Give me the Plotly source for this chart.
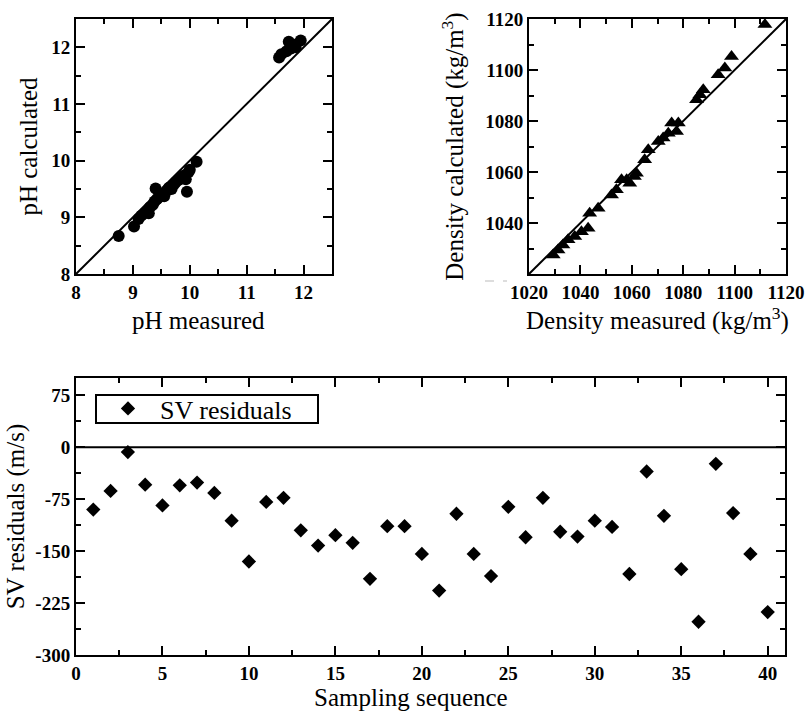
import plotly.graph_objects as go

# ---------------- data ----------------
ph_measured = [8.75, 9.02, 9.10, 9.15, 9.22, 9.28, 9.30, 9.35, 9.38, 9.40, 9.42, 9.45,
               9.50, 9.55, 9.60, 9.63, 9.68, 9.72, 9.75, 9.80, 9.85, 9.90, 9.95, 9.93,
               9.98, 10.00, 10.12, 11.57, 11.61, 11.70, 11.74, 11.78, 11.82, 11.86, 11.95]
ph_calculated = [8.67, 8.84, 8.97, 9.03, 9.08, 9.07, 9.18, 9.22, 9.28, 9.51, 9.32, 9.35,
                 9.40, 9.37, 9.47, 9.52, 9.50, 9.58, 9.62, 9.66, 9.70, 9.74, 9.45, 9.67,
                 9.80, 9.84, 9.98, 11.82, 11.88, 11.93, 12.10, 11.98, 12.05, 12.00, 12.12]
ph_identity = [8, 12.5]

dens_measured = [1029.4, 1031.3, 1033.2, 1035.2, 1037.8, 1040.4, 1043.0, 1043.6, 1046.9,
                 1052.1, 1054.0, 1056.0, 1058.0, 1059.2, 1061.0, 1061.8, 1065.0, 1066.4,
                 1070.3, 1072.2, 1074.2, 1075.5, 1077.4, 1078.1, 1085.2, 1086.5, 1087.8,
                 1093.6, 1096.2, 1098.8, 1111.8]
dens_calculated = [1027.5, 1029.4, 1031.4, 1033.4, 1034.7, 1036.6, 1037.9, 1043.8, 1045.8,
                   1051.0, 1053.0, 1057.0, 1057.0, 1055.6, 1058.2, 1059.5, 1064.8, 1068.7,
                   1072.0, 1073.3, 1075.2, 1079.2, 1075.9, 1079.2, 1088.3, 1090.3, 1092.3,
                   1098.1, 1100.8, 1105.3, 1117.8]
dens_identity = [1020, 1120]
dens_ytickvals = [1040, 1060, 1080, 1100, 1120]

sample_seq = list(range(1, 41))
sv_residuals = [-90, -63, -7, -54, -84, -55, -51, -66, -106, -165,
                -79, -73, -120, -142, -127, -138, -190, -114, -114, -154,
                -207, -96, -154, -186, -86, -130, -73, -122, -129, -106,
                -115, -183, -35, -99, -176, -252, -24, -95, -154, -238]
zero_x = [0, 41]
zero_y = [0, 0]
sv_tickvals = [75, 0, -75, -150, -225, -300]
sv_ticktext = ["75", "0", "-75", "-150", "-225", "-300"]

# ---------------- figure ----------------
FONT = "Liberation Serif"
tickfont = dict(family=FONT, size=19, color="black", weight="bold")
titlefont = dict(family=FONT, size=25, color="black")

fig = go.Figure()

fig.add_trace(go.Scatter(x=ph_identity, y=ph_identity, mode="lines",
                         line=dict(color="black", width=2), showlegend=False,
                         xaxis="x", yaxis="y"))
fig.add_trace(go.Scatter(x=ph_measured, y=ph_calculated, mode="markers",
                         marker=dict(symbol="circle", size=12, color="black"),
                         showlegend=False, xaxis="x", yaxis="y"))

fig.add_trace(go.Scatter(x=dens_identity, y=dens_identity, mode="lines",
                         line=dict(color="black", width=2), showlegend=False,
                         xaxis="x2", yaxis="y2"))
fig.add_trace(go.Scatter(x=dens_measured, y=dens_calculated, mode="markers",
                         marker=dict(symbol="triangle-up", size=13, color="black"),
                         showlegend=False, xaxis="x2", yaxis="y2"))

fig.add_trace(go.Scatter(x=zero_x, y=zero_y, mode="lines",
                         line=dict(color="black", width=2), showlegend=False,
                         xaxis="x3", yaxis="y3"))
fig.add_trace(go.Scatter(x=sample_seq, y=sv_residuals, mode="markers",
                         name="SV residuals",
                         marker=dict(symbol="diamond", size=11, color="black"),
                         showlegend=True, xaxis="x3", yaxis="y3"))

W, H = 807, 713

def axis_common(**kw):
    d = dict(showline=True, linewidth=2, linecolor="black", mirror="allticks",
             ticks="inside", ticklen=9, tickwidth=2, tickcolor="black",
             showgrid=False, zeroline=False, tickfont=tickfont, automargin=False,
             tickprefix="<b>", ticksuffix="</b>",
             minor=dict(ticks="inside", ticklen=5, tickwidth=2, tickcolor="black", showgrid=False))
    d.update(kw)
    return d

fig.update_layout(
    width=W, height=H,
    margin=dict(l=0, r=0, t=0, b=0, autoexpand=False),
    paper_bgcolor="white", plot_bgcolor="white",
    xaxis=axis_common(domain=[76 / W, 332 / W], range=[8, 12.5], tick0=8, dtick=1,
                      minor_dtick=0.5, anchor="y"),
    yaxis=axis_common(domain=[1 - 274 / H, 1 - 19 / H], range=[8, 12.5], tick0=8, dtick=1,
                      minor_dtick=0.5, anchor="x",
                      title=dict(text="pH calculated", font=titlefont, standoff=6)),
    xaxis2=axis_common(domain=[529 / W, 786 / W], range=[1020, 1120], tick0=1020, dtick=20,
                       minor_dtick=10, anchor="y2",
                       title=dict(text="Density measured (kg/m<sup>3</sup>)", font=titlefont, standoff=8)),
    yaxis2=axis_common(domain=[1 - 274 / H, 1 - 19 / H], range=[1020, 1120],
                       tickmode="array", tickvals=dens_ytickvals,
                       minor=dict(tick0=1020, dtick=10, ticks="inside", ticklen=5, tickwidth=2,
                                  tickcolor="black", showgrid=False),
                       anchor="x2",
                       title=dict(text="Density calculated (kg/m<sup>3</sup>)", font=titlefont, standoff=14)),
    xaxis3=axis_common(domain=[76 / W, 785 / W], range=[0, 41], tick0=0, dtick=5,
                       minor_dtick=2.5, anchor="y3"),
    yaxis3=axis_common(domain=[1 - 655 / H, 1 - 378 / H], range=[-300, 100],
                       tickmode="array", tickvals=sv_tickvals, ticktext=sv_ticktext,
                       minor=dict(tick0=-300, dtick=37.5, ticks="inside", ticklen=5, tickwidth=2,
                                  tickcolor="black", showgrid=False),
                       anchor="x3",
                       title=dict(text="SV residuals (m/s)", font=titlefont, standoff=4)),
    legend=dict(x=96 / W, y=1 - 385 / H, xanchor="left", yanchor="top",
                bgcolor="rgba(0,0,0,0)", borderwidth=0,
                font=dict(family=FONT, size=26, color="black"),
                itemwidth=54),
    annotations=[
        dict(text="pH measured", xref="paper", yref="paper", x=198 / W, y=1 - 320 / H,
             xanchor="center", yanchor="middle", showarrow=False, font=titlefont),
        dict(text="Sampling sequence", xref="paper", yref="paper", x=411 / W, y=1 - 697 / H,
             xanchor="center", yanchor="middle", showarrow=False, font=titlefont),
    ],
    shapes=[dict(type="rect", xref="paper", yref="paper",
                 x0=96 / W, x1=318 / W, y0=1 - 423 / H, y1=1 - 395 / H,
                 line=dict(color="black", width=2), fillcolor="rgba(0,0,0,0)"),
            dict(type="line", xref="paper", yref="paper",
                 x0=485 / W, x1=507 / W, y0=1 - 281 / H, y1=1 - 281 / H,
                 line=dict(color="#bbbbbb", width=1, dash="dash"))],
)

fig.write_html("out.html")
